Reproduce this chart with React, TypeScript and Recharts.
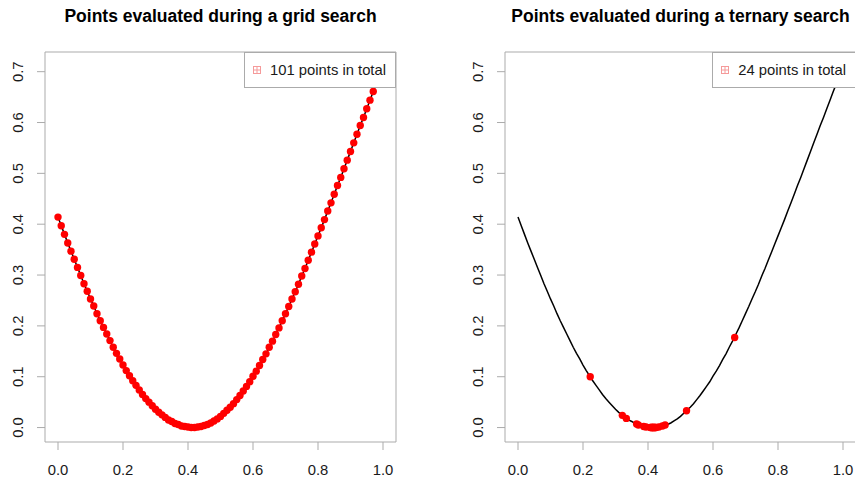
import React from 'react';
import {
  ComposedChart,
  Line,
  Scatter,
  XAxis,
  YAxis,
  ReferenceArea,
  Legend,
} from 'recharts';

// Objective evaluated on a regular grid, x = 0.00 .. 1.00 in steps of 0.01
const GRID_X = [
  0.0, 0.01, 0.02, 0.03, 0.04, 0.05, 0.06, 0.07, 0.08, 0.09,
  0.1, 0.11, 0.12, 0.13, 0.14, 0.15, 0.16, 0.17, 0.18, 0.19,
  0.2, 0.21, 0.22, 0.23, 0.24, 0.25, 0.26, 0.27, 0.28, 0.29,
  0.3, 0.31, 0.32, 0.33, 0.34, 0.35, 0.36, 0.37, 0.38, 0.39,
  0.4, 0.41, 0.42, 0.43, 0.44, 0.45, 0.46, 0.47, 0.48, 0.49,
  0.5, 0.51, 0.52, 0.53, 0.54, 0.55, 0.56, 0.57, 0.58, 0.59,
  0.6, 0.61, 0.62, 0.63, 0.64, 0.65, 0.66, 0.67, 0.68, 0.69,
  0.7, 0.71, 0.72, 0.73, 0.74, 0.75, 0.76, 0.77, 0.78, 0.79,
  0.8, 0.81, 0.82, 0.83, 0.84, 0.85, 0.86, 0.87, 0.88, 0.89,
  0.9, 0.91, 0.92, 0.93, 0.94, 0.95, 0.96, 0.97, 0.98, 0.99,
  1.0,
];

const GRID_Y = [
  0.414, 0.397, 0.380, 0.363, 0.347, 0.331, 0.315, 0.299, 0.283, 0.268,
  0.253, 0.239, 0.224, 0.210, 0.197, 0.184, 0.171, 0.158, 0.146, 0.135,
  0.123, 0.112, 0.102, 0.092, 0.083, 0.074, 0.065, 0.057, 0.050, 0.043,
  0.036, 0.030, 0.025, 0.020, 0.015, 0.012, 0.008, 0.006, 0.003, 0.002,
  0.001, 0.000, 0.000, 0.001, 0.002, 0.004, 0.006, 0.009, 0.013, 0.017,
  0.022, 0.028, 0.034, 0.040, 0.047, 0.055, 0.063, 0.072, 0.081, 0.090,
  0.101, 0.111, 0.122, 0.134, 0.145, 0.158, 0.170, 0.183, 0.196, 0.210,
  0.224, 0.238, 0.253, 0.267, 0.282, 0.298, 0.313, 0.329, 0.345, 0.361,
  0.377, 0.393, 0.409, 0.426, 0.442, 0.459, 0.476, 0.492, 0.509, 0.526,
  0.543, 0.560, 0.577, 0.594, 0.610, 0.627, 0.644, 0.661, 0.677, 0.694,
  0.710,
];

// Ternary search probes, in the order they were evaluated
const TERNARY_X = [
  0.3333, 0.6667, 0.2222, 0.4444, 0.3704, 0.5185, 0.321, 0.4198,
  0.3868, 0.4527, 0.3649, 0.4088, 0.3941, 0.4234, 0.4137, 0.4332,
  0.4072, 0.4202, 0.4158, 0.4245, 0.4129, 0.4187, 0.411, 0.4149,
];
const TERNARY_Y = [
  0.018, 0.177, 0.100, 0.003, 0.005, 0.033, 0.024, 0.000,
  0.002, 0.005, 0.007, 0.000, 0.001, 0.000, 0.000, 0.001,
  0.000, 0.000, 0.000, 0.000, 0.000, 0.000, 0.000, 0.000,
];

const X_TICKS = [0, 0.2, 0.4, 0.6, 0.8, 1.0];
const Y_TICKS = [0, 0.1, 0.2, 0.3, 0.4, 0.5, 0.6, 0.7];

// R-style 4% padding around the data range
const X_DOMAIN = [-0.04, 1.04];
const Y_DOMAIN = [-0.0284, 0.7387];

const FONT = '"Liberation Sans", Arial, Helvetica, sans-serif';
const FRAME = '#ababab';
const TEXT = '#1a1a1a';
const RED = '#ff0000';

const gridData = GRID_X.map((x, i) => ({ x, y: GRID_Y[i] }));
const ternaryData = TERNARY_X.map((x, i) => ({ x, y: TERNARY_Y[i] }));

const XTick = ({ x, y, payload }: any) => (
  <text
    x={x}
    y={y}
    textAnchor="middle"
    dominantBaseline="central"
    fill={TEXT}
    fontSize={14.8}
    fontFamily={FONT}
  >
    {Number(payload.value).toFixed(1)}
  </text>
);

const YTick = ({ x, y, payload }: any) => (
  <text
    x={x}
    y={y}
    transform={`rotate(-90 ${x} ${y})`}
    textAnchor="middle"
    dominantBaseline="central"
    fill={TEXT}
    fontSize={14.8}
    fontFamily={FONT}
  >
    {Number(payload.value).toFixed(1)}
  </text>
);

const Dot = (props: any) => {
  const { cx, cy } = props;
  if (cx == null || cy == null) return null;
  return <circle cx={cx} cy={cy} r={3.7} fill={RED} />;
};

const BoxPlusLegend = ({ label }: { label: string }) => (
  <div
    style={{
      background: '#fff',
      border: `1px solid ${FRAME}`,
      height: 34,
      display: 'flex',
      alignItems: 'center',
      padding: '0 9px 0 8px',
      fontFamily: FONT,
      fontSize: 14.8,
      color: TEXT,
      whiteSpace: 'nowrap',
    }}
  >
    <svg width={8} height={8} style={{ display: 'block' }}>
      <rect x={0.5} y={0.5} width={7} height={7} fill="none" stroke="#f59a9a" strokeWidth={1} />
      <line x1={4} y1={0.5} x2={4} y2={7.5} stroke="#f59a9a" strokeWidth={1} />
      <line x1={0.5} y1={4} x2={7.5} y2={4} stroke="#f59a9a" strokeWidth={1} />
    </svg>
    <span style={{ marginLeft: 9 }}>{label}</span>
  </div>
);

interface PanelProps {
  title: string;
  legend: string;
  left: number;
  plotLeft: number;
  plotRight: number;
  points: Array<{ x: number; y: number }>;
}

const PANEL_W = 430;
const PANEL_H = 479;
const PLOT_TOP = 52;
const AXIS_H = 37;

function Panel({ title, legend, left, plotLeft, plotRight, points }: PanelProps) {
  const plotCenter = (plotLeft + plotRight) / 2;
  const rightGap = PANEL_W - plotRight;
  return (
    <div style={{ position: 'absolute', left, top: 0, width: PANEL_W, height: PANEL_H }}>
      <div
        style={{
          position: 'absolute',
          top: 7.5,
          left: plotCenter - 250,
          width: 500,
          textAlign: 'center',
          fontFamily: FONT,
          fontWeight: 'bold',
          fontSize: 17.5,
          lineHeight: '17.5px',
          color: '#000',
          whiteSpace: 'nowrap',
        }}
      >
        {title}
      </div>
      <ComposedChart
        width={PANEL_W}
        height={PANEL_H}
        margin={{ top: PLOT_TOP, right: rightGap, bottom: 0, left: 0 }}
      >
        <XAxis
          dataKey="x"
          type="number"
          domain={X_DOMAIN}
          ticks={X_TICKS}
          allowDataOverflow
          height={AXIS_H}
          axisLine={false}
          tickLine={{ stroke: FRAME }}
          tickSize={8}
          tickMargin={20}
          tick={<XTick />}
          interval={0}
        />
        <YAxis
          type="number"
          domain={Y_DOMAIN}
          ticks={Y_TICKS}
          allowDataOverflow
          width={plotLeft}
          axisLine={false}
          tickLine={{ stroke: FRAME }}
          tickSize={8}
          tickMargin={19}
          tick={<YTick />}
          interval={0}
        />
        <ReferenceArea
          x1={X_DOMAIN[0]}
          x2={X_DOMAIN[1]}
          y1={Y_DOMAIN[0]}
          y2={Y_DOMAIN[1]}
          fill="none"
          stroke={FRAME}
          strokeWidth={1}
          fillOpacity={0}
        />
        <Line
          data={gridData}
          dataKey="y"
          stroke="#000"
          strokeWidth={1.5}
          dot={false}
          activeDot={false}
          isAnimationActive={false}
        />
        <Scatter data={points} dataKey="y" shape={<Dot />} isAnimationActive={false} />
        <Legend
          layout="horizontal"
          align="center"
          verticalAlign="middle"
          wrapperStyle={{ top: PLOT_TOP, right: rightGap, left: 'auto', bottom: 'auto', width: 'auto' }}
          content={() => <BoxPlusLegend label={legend} />}
        />
      </ComposedChart>
    </div>
  );
}

export default function App() {
  return (
    <div
      style={{
        position: 'absolute',
        left: 0,
        top: 0,
        width: 855,
        height: 479,
        overflow: 'hidden',
        background: '#fff',
      }}
    >
      <Panel
        title="Points evaluated during a grid search"
        legend="101 points in total"
        left={0}
        plotLeft={45}
        plotRight={396}
        points={gridData}
      />
      <Panel
        title="Points evaluated during a ternary search"
        legend="24 points in total"
        left={430}
        plotLeft={75}
        plotRight={426}
        points={ternaryData}
      />
    </div>
  );
}
